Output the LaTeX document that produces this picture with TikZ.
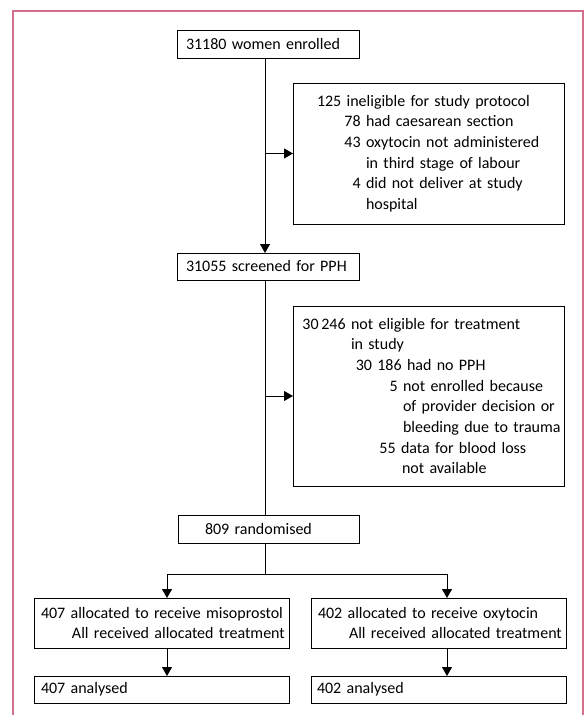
\documentclass[tikz,border=0pt]{standalone}
\usepackage{fontspec}
\setmainfont{Carlito}[WordSpace=0.7]
\usetikzlibrary{arrows.meta}

\definecolor{framepink}{RGB}{212,112,140}
\newcommand\boxfont{\fontsize{16}{20.7}\selectfont\hyphenpenalty=10000\exhyphenpenalty=10000}
\newcommand\pad[1]{\hspace*{#1pt}}
\newcommand\lnum[1]{\llap{#1\ }}

\tikzset{
  box/.style={draw, line width=1pt, rectangle, inner sep=0pt, outer sep=0pt,
    anchor=north west, align=left, font=\boxfont},
  arr/.style={line width=1pt, -{Triangle[width=10pt,length=9pt]}},
  link/.style={line width=1pt}
}

\begin{document}
\begin{tikzpicture}[x=1pt,y=-1pt]
\useasboundingbox (0,0) rectangle (585,715);
\draw[framepink, line width=1.5pt] (13,715) -- (13,11) -- (583,11) -- (583,715);

\node[box, text width=182pt, minimum height=28pt] (enrolled) at (177,30) {\pad{9}31180 women enrolled};
\node[box, text width=271pt, minimum height=141pt] (excl1) at (293,83)
  {\pad{24}125 ineligible for study protocol\\
   \pad{73}\lnum{78}had caesarean section\\
   \pad{73}\lnum{43}oxytocin not administered\\
   \pad{73}in third stage of labour\\
   \pad{73}\lnum{4}did not deliver at study\\
   \pad{73}hospital};
\node[box, text width=182pt, minimum height=27pt] (screened) at (177,253) {\pad{9}31055 screened for PPH};
\node[box, text width=271pt, minimum height=180pt] (excl2) at (293,306)
  {\pad{58}\lnum{30\,246}not eligible for treatment\\
   \pad{58}in study\\
   \pad{114}\lnum{30 186}had no PPH\\
   \pad{110}\lnum{5}not enrolled because\\
   \pad{110}of provider decision or\\
   \pad{110}bleeding due to trauma\\
   \pad{108}\lnum{55}data for blood loss\\
   \pad{109}not available};
\node[box, text width=181pt, minimum height=28pt] (random) at (178,515) {\pad{27}809 randomised};

\node[box, text width=255pt, minimum height=50pt] (miso) at (34,598)
  {\pad{7}407 allocated to receive misoprostol\\
   \pad{38}All received allocated treatment};
\node[box, text width=255pt, minimum height=50pt] (oxy) at (311,598)
  {\pad{7}402 allocated to receive oxytocin\\
   \pad{38}All received allocated treatment};
\node[box, text width=255pt, minimum height=27pt] (misoan) at (34,676) {\pad{7}407 analysed};
\node[box, text width=255pt, minimum height=27pt] (oxyan) at (311,676) {\pad{6}402 analysed};

\coordinate (spine) at (265,0);
\coordinate (split) at (265,574);
\coordinate (lbr) at (167,574);
\coordinate (rbr) at (447,574);

\draw[arr] (enrolled.south -| spine) -- (screened.north -| spine);
\draw[arr] (excl1.west -| spine) -- (excl1.west);
\draw[link] (screened.south -| spine) -- (random.north -| spine);
\draw[arr] (excl2.west -| spine) -- (excl2.west);
\draw[link] (random.south -| spine) -- (split);
\draw[arr] (split) -- (lbr) -- (miso.north -| lbr);
\draw[arr] (split) -- (rbr) -- (oxy.north -| rbr);
\draw[arr] (miso.south -| lbr) -- (misoan.north -| lbr);
\draw[arr] (oxy.south -| rbr) -- (oxyan.north -| rbr);
\end{tikzpicture}
\end{document}
